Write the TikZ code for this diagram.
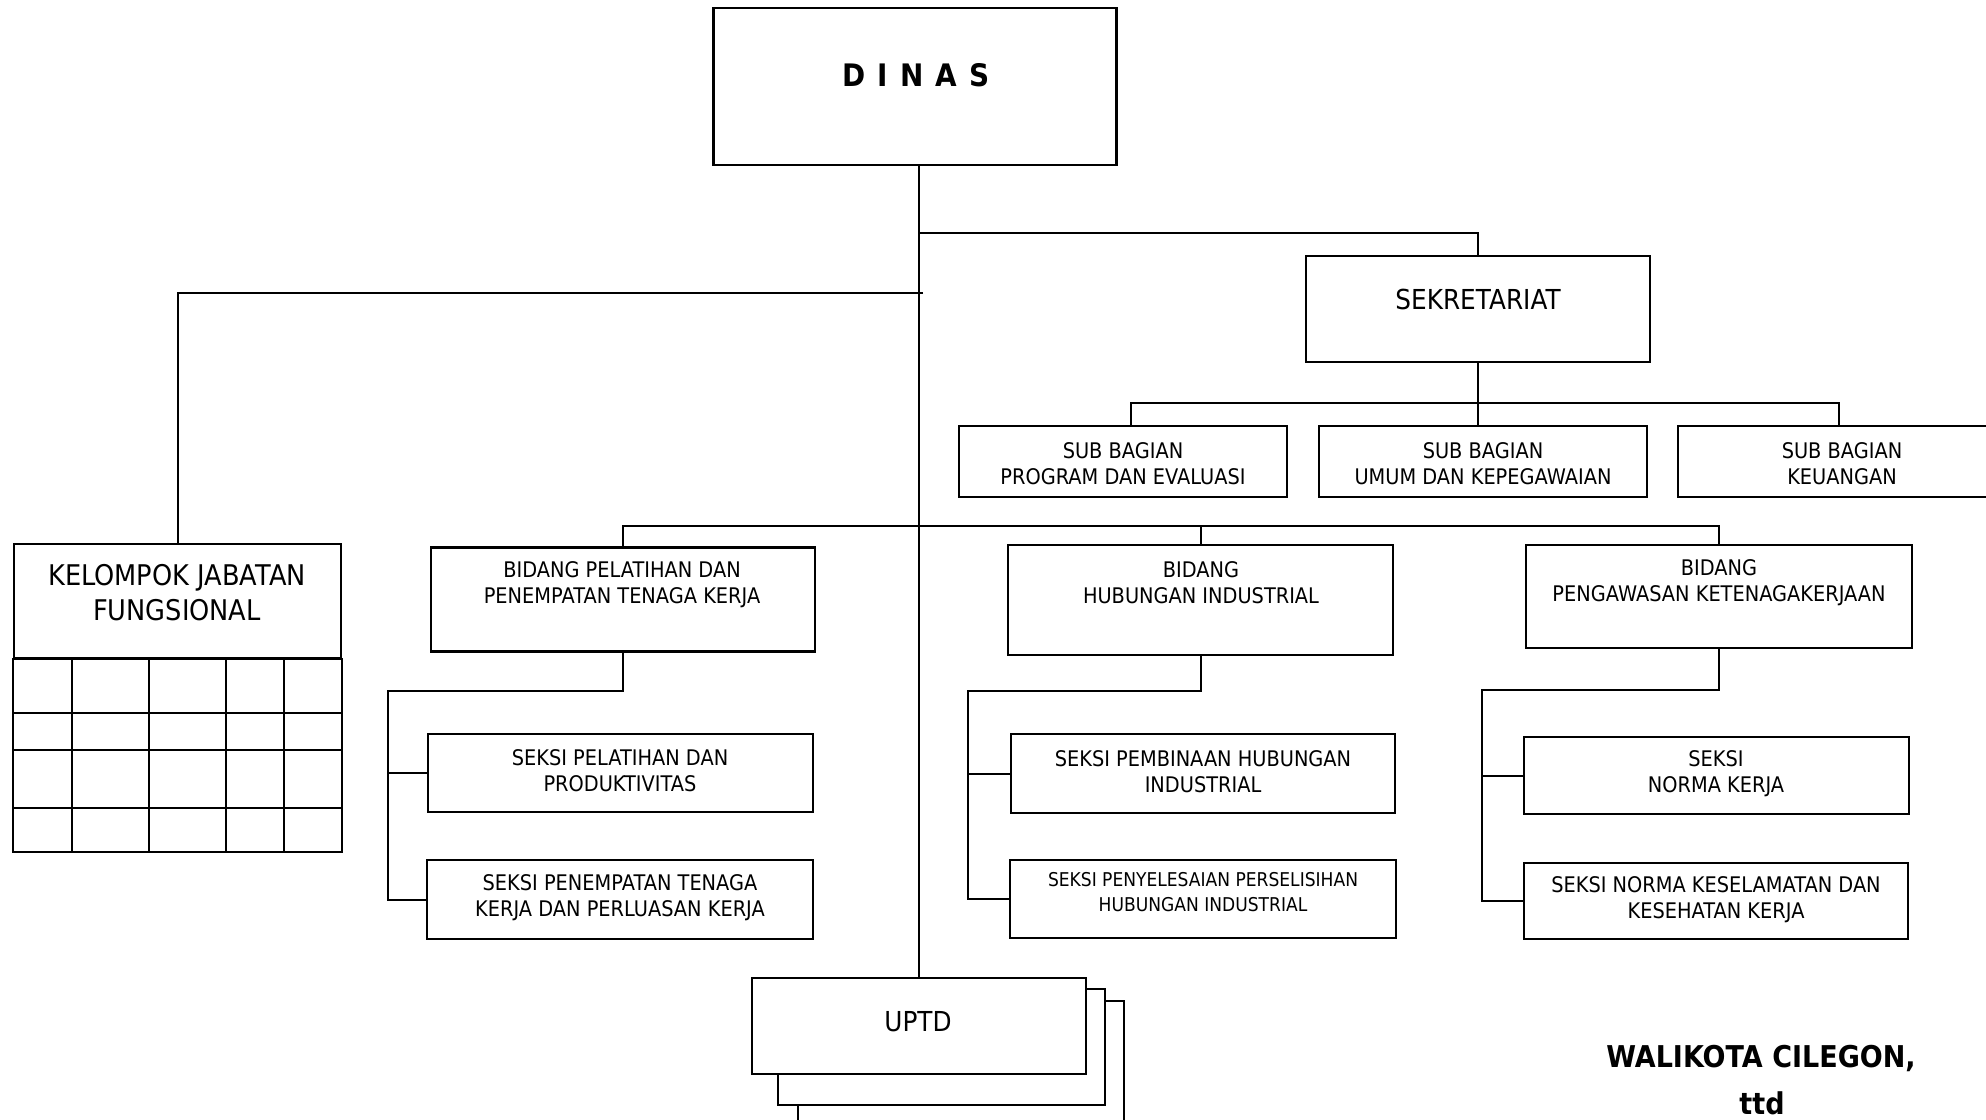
\documentclass[tikz,border=0pt]{standalone}
\usepackage{fontspec}
\setmainfont{DejaVu Sans}[FakeStretch=0.9]
\usetikzlibrary{calc}
\tikzset{
  org chart/.style={x=1pt, y=-1pt},
  unit/.style={draw, line width=2.2pt, fill=white, inner sep=0pt},
  boxdim/.style 2 args={minimum width=#1pt, minimum height=#2pt},
  link/.style={line width=2pt},
  big/.style={font=\fontsize{27.5}{35}\selectfont, align=center, inner sep=0pt},
  small/.style={font=\fontsize{21.5}{26}\selectfont, align=center, inner sep=0pt},
  tiny/.style={font=\fontsize{19}{25}\selectfont, align=center, inner sep=0pt},
  head/.style={font=\bfseries\fontsize{31}{36}\selectfont, inner sep=0pt},
  sign/.style={font=\bfseries\fontsize{30}{36}\selectfont, inner sep=0pt, anchor=base},
}

\begin{document}
\begin{tikzpicture}[org chart]
  \useasboundingbox (0,0) rectangle (1986,1119);
  \fill[white] (0,0) rectangle (1986,1119);
  \clip (0,0) rectangle (1986,1119);

  % boxes
  \node[unit, boxdim={403}{157}] (dinas) at (915,86.5) {};
  \node[unit, boxdim={344}{106}] (sek) at (1478,309) {};
  \node[unit, boxdim={328}{71}] (sb1) at (1123,461.5) {};
  \node[unit, boxdim={328}{71}] (sb2) at (1483,461.5) {};
  \node[unit, boxdim={328}{71}] (sb3) at (1842,461.5) {};
  \node[unit, boxdim={327}{114}] (kel) at (177.5,601) {};
  \node[unit, boxdim={384}{104}] (bid1) at (623,599.5) {};
  \node[unit, boxdim={385}{110}] (bid2) at (1200.5,600) {};
  \node[unit, boxdim={386}{103}] (bid3) at (1719,596.5) {};
  \node[unit, boxdim={385}{78}] (s1a) at (620.5,773) {};
  \node[unit, boxdim={386}{79}] (s1b) at (620,899.5) {};
  \node[unit, boxdim={384}{79}] (s2a) at (1203,773.5) {};
  \node[unit, boxdim={386}{78}] (s2b) at (1203,899) {};
  \node[unit, boxdim={385}{77}] (s3a) at (1716.5,775.5) {};
  \node[unit, boxdim={384}{76}] (s3b) at (1716,901) {};
  \node[unit, boxdim={326}{150}] (uptd3) at (961,1076) {};
  \node[unit, boxdim={327}{116}] (uptd2) at (941.5,1047) {};
  \node[unit, boxdim={334}{96}] (uptd) at (919,1026) {};

  % kelompok grid
  \draw[link] (kel.south west) rectangle (kel.east |- 0,852);
  \foreach \gx in {72,149,226,284}
    \draw[link] (\gx,658) -- (\gx,852);
  \foreach \gy in {713,750,808}
    \draw[link] (14,\gy) -- (341,\gy);

  % connectors
  \coordinate (jsek) at (919,233);
  \coordinate (jkel) at (923,293);
  \coordinate (jsb) at (1478,403);
  \coordinate (jbid) at (919,526);
  \coordinate (rail1) at (388,691);
  \coordinate (rail2) at (968,691);
  \coordinate (rail3) at (1482,690);

  \draw[link] (dinas.south -| uptd.north) -- (uptd.north);
  \draw[link] (jsek) -| (sek.north);
  \draw[link] (jkel) -| (kel.north);
  \draw[link] ([xshift=8pt]sb1.north) |- (jsb) -| ([xshift=-3pt]sb3.north);
  \draw[link] (sek.south) -- (sek.south |- sb2.north);
  \draw[link] (bid1.north) |- (jbid) -| (bid3.north);
  \draw[link] (jbid -| bid2.north) -- (bid2.north);

  \draw[link] (bid1.south) |- (rail1) |- (s1b.west);
  \draw[link] (rail1 |- s1a.west) -- (s1a.west);
  \draw[link] (bid2.south) |- (rail2) |- (s2b.west);
  \draw[link] (rail2 |- s2a.west) -- (s2a.west);
  \draw[link] (bid3.south) |- (rail3) |- (s3b.west);
  \draw[link] (rail3 |- s3a.west) -- (s3a.west);

  % texts
  \node[head] (tdinas) at (916,75)
    {D\hspace{12pt}I\hspace{12pt}N\hspace{12pt}A\hspace{12pt}S};
  \node[big] (tsek) at (1478,299) {SEKRETARIAT};
  \node[small] (tsb1) at (1123,463.5) {SUB BAGIAN\\PROGRAM DAN EVALUASI};
  \node[small] (tsb2) at (1483,463.5) {SUB BAGIAN\\UMUM DAN KEPEGAWAIAN};
  \node[small] (tsb3) at (1842,463.5) {SUB BAGIAN\\KEUANGAN};
  \node[big, font=\fontsize{28.5}{35}\selectfont] (tkel) at (177,592.5)
    {KELOMPOK JABATAN\\FUNGSIONAL};
  \node[small] (tbid1) at (622,584.5) {BIDANG PELATIHAN DAN\\PENEMPATAN TENAGA KERJA};
  \node[small] (tbid2) at (1201,582.5) {BIDANG\\HUBUNGAN INDUSTRIAL};
  \node[small] (tbid3) at (1719,582.5) {BIDANG\\PENGAWASAN KETENAGAKERJAAN};
  \node[small] (ts1a) at (620,770.5) {SEKSI PELATIHAN DAN\\PRODUKTIVITAS};
  \node[small] (ts1b) at (620,897.5) {SEKSI PENEMPATAN TENAGA\\KERJA DAN PERLUASAN KERJA};
  \node[small] (ts2a) at (1203,771.5) {SEKSI PEMBINAAN HUBUNGAN\\INDUSTRIAL};
  \node[tiny] (ts2b) at (1203,892.5) {SEKSI PENYELESAIAN PERSELISIHAN\\HUBUNGAN INDUSTRIAL};
  \node[small] (ts3a) at (1716,773.5) {SEKSI\\NORMA KERJA};
  \node[small] (ts3b) at (1716,900) {SEKSI NORMA KESELAMATAN DAN\\KESEHATAN KERJA};
  \node[big] (tuptd) at (918,1022) {UPTD};

  \node[sign] (wali) at (1761,1067) {WALIKOTA CILEGON,};
  \node[sign] (ttd) at (1762,1114) {ttd};
\end{tikzpicture}
\end{document}
